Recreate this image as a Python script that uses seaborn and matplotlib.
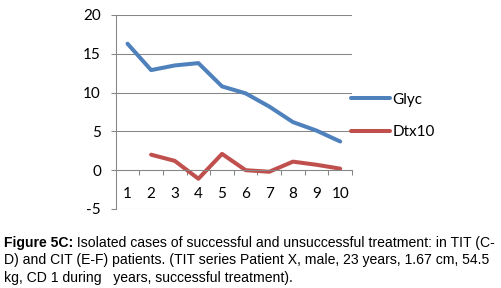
import numpy as np
import pandas as pd
import matplotlib
matplotlib.use("Agg")
import matplotlib.pyplot as plt
import seaborn as sns

# ---- data ----
categories = [1, 2, 3, 4, 5, 6, 7, 8, 9, 10]
glyc = [16.3, 12.9, 13.5, 13.8, 10.8, 9.9, 8.2, 6.2, 5.1, 3.7]
dtx10 = [np.nan, 2.0, 1.2, -1.1, 2.1, 0.0, -0.2, 1.1, 0.7, 0.2]
y_ticks = [-5, 0, 5, 10, 15, 20]
series_names = ["Glyc", "Dtx10"]
caption_bold = "Figure 5C:"
caption_lines = [
    " Isolated cases of successful and unsuccessful treatment: in TIT (C-",
    "D) and CIT (E-F) patients. (TIT series Patient X, male, 23 years, 1.67 cm, 54.5",
    "kg, CD 1 during   years, successful treatment).",
]

sns.set_theme(style="white")
plt.rcParams["font.family"] = ["Lato", "DejaVu Sans"]
plt.rcParams["axes.unicode_minus"] = False
plt.rcParams["text.color"] = "black"
plt.rcParams["xtick.labelcolor"] = "black"
plt.rcParams["ytick.labelcolor"] = "black"

W, H = 501, 288
fig = plt.figure(figsize=(W / 100, H / 100), dpi=100)
ax = fig.add_axes([115.7 / W, 1 - 209 / H, (352 - 115.7) / W, (209 - 15) / H])

df = pd.DataFrame({"x": categories, "Glyc": glyc, "Dtx10": dtx10})
colors = {"Glyc": "#4F81BD", "Dtx10": "#C0504D"}
for name in series_names:
    sns.lineplot(data=df, x="x", y=name, ax=ax, color=colors[name],
                 linewidth=2.9, label=name, legend=False)

grid_c = "#868686"
ax.set_xlim(0.5, 10.5)
ax.set_ylim(-5, 20)
ax.set_yticks(y_ticks)
ax.yaxis.grid(True, color=grid_c, linewidth=0.75)
ax.set_axisbelow(True)
for s in ["top", "right"]:
    ax.spines[s].set_visible(False)
ax.spines["left"].set_color(grid_c)
ax.spines["left"].set_linewidth(0.75)
ax.spines["bottom"].set_position(("data", 0))
ax.spines["bottom"].set_color(grid_c)
ax.spines["bottom"].set_linewidth(0.75)

# x major ticks at category boundaries, labels via minor ticks
ax.set_xticks([c - 0.5 for c in categories] + [categories[-1] + 0.5])
ax.set_xticklabels([])
ax.set_xticks(categories, minor=True)
ax.set_xticklabels([str(c) for c in categories], minor=True)
ax.tick_params(axis="x", which="major", direction="out", length=3.6,
               width=0.75, color=grid_c, bottom=True)
ax.tick_params(axis="x", which="minor", length=0, pad=12, labelsize=11,
               bottom=True, labelcolor="black")
ax.tick_params(axis="y", direction="out", length=3.6, width=0.75,
               color=grid_c, pad=7, labelsize=11, left=True,
               labelcolor="black")
ax.set_xlabel("")
ax.set_ylabel("")

handles, labels = ax.get_legend_handles_labels()
fig.legend(handles, labels, loc="center left",
           bbox_to_anchor=(351 / W, 1 - 115.9 / H), frameon=False,
           fontsize=11, handlelength=2.55, handletextpad=0.15,
           labelspacing=1.2, borderpad=0, borderaxespad=0,
           labelcolor="black")

# caption
cap_font = ["Liberation Sans", "DejaVu Sans"]
fs = 10.05
baselines = [246.7, 264.3, 281.7]
t = fig.text(4 / W, 1 - baselines[0] / H, caption_bold, fontsize=fs,
             fontweight="bold", family=cap_font, va="baseline", ha="left",
             color="black")
fig.canvas.draw()
bb = t.get_window_extent()
fig.text(bb.x1 / W, 1 - baselines[0] / H, caption_lines[0], fontsize=fs,
         family=cap_font, va="baseline", ha="left", color="black")
for line, b in zip(caption_lines[1:], baselines[1:]):
    fig.text(4 / W, 1 - b / H, line, fontsize=fs, family=cap_font,
             va="baseline", ha="left", color="black")

fig.savefig("out.png", dpi=100)
